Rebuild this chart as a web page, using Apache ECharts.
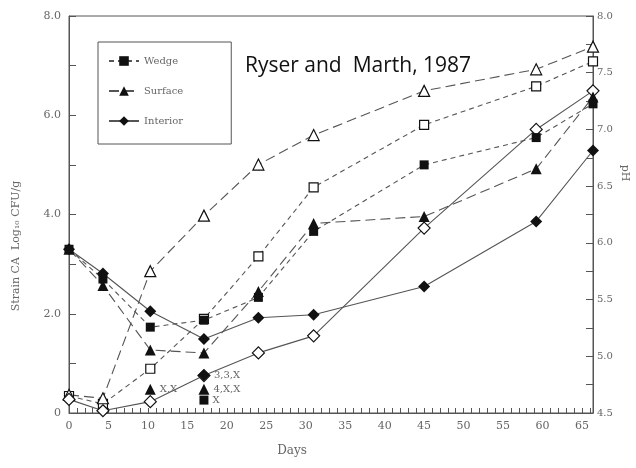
<!DOCTYPE html>
<html>
<head>
<meta charset="utf-8">
<script src="https://cdn.jsdelivr.net/npm/echarts@6/dist/echarts.min.js"></script>
<style>
html,body{margin:0;padding:0;background:#fff;}
#main{width:636px;height:468px;}
</style>
</head>
<body>
<div id="main"></div>
<script>
// sampling days
var days = [0, 4.3, 10.3, 17.1, 24, 31, 45, 59.2, 66.4];

// log10 CFU/g (left axis), filled markers
var wedgeLog = [3.3, 2.7, 1.73, 1.87, 2.33, 3.66, 5.0, 5.55, 6.23];
var surfaceLog = [3.3, 2.57, 1.27, 1.21, 2.45, 3.82, 3.96, 4.92, 6.37];
var interiorLog = [3.3, 2.81, 2.05, 1.49, 1.92, 1.98, 2.55, 3.86, 5.29];

// pH (right axis), open markers
var wedgePH = [4.65, 4.58, 4.89, 5.33, 5.88, 6.49, 7.04, 7.38, 7.6];
var surfacePH = [4.66, 4.63, 5.75, 6.24, 6.69, 6.95, 7.34, 7.53, 7.73];
var interiorPH = [4.62, 4.52, 4.6, 4.83, 5.03, 5.18, 6.13, 7.0, 7.34];

// single low replicate points with their notes
var lowTriDays = [10.3, 17.1];
var lowTriLog = [0.48, 0.48];
var lowTriNotes = ['X,X', '4,X,X'];
var lowDiaDays = [17.1];
var lowDiaLog = [0.76];
var lowDiaNotes = ['3,3,X'];
var lowSqDays = [17.1];
var lowSqLog = [0.26];
var lowSqNotes = ['X'];

var leftTicks = ['0', '2.0', '4.0', '6.0', '8.0'];

function pairs(xs, ys){
	var out = [];
	for (var i = 0; i < xs.length; i++) out.push([xs[i], ys[i]]);
	return out;
}

var ink = '#111';
var lineInk = '#555';
var txt = '#666';
var serif = 'DejaVu Serif';

function lineSeries(name, ys, axis, symbol, size, dash, open){
	return {
		name: name,
		type: 'line',
		yAxisIndex: axis,
		data: pairs(days, ys),
		symbol: symbol,
		symbolSize: size,
		showAllSymbol: true,
		lineStyle: {color: lineInk, width: 1.1, type: dash},
		itemStyle: {color: open ? '#fff' : ink, borderColor: ink, borderWidth: open ? 1.2 : 0, opacity: 1},
		z: open ? 2 : 3,
		animation: false
	};
}

function lowSeries(xs, ys, notes, symbol, size){
	return {
		name: 'low-' + symbol,
		type: 'scatter',
		yAxisIndex: 0,
		data: pairs(xs, ys),
		symbol: symbol,
		symbolSize: size,
		itemStyle: {color: ink, opacity: 1},
		label: {
			show: true, position: 'right', distance: 4,
			color: txt, fontFamily: serif, fontSize: 10,
			formatter: function(p){ return notes[p.dataIndex]; }
		},
		z: 4,
		animation: false
	};
}

var chart = echarts.init(document.getElementById('main'));

var option = {
	backgroundColor: '#fff',
	animation: false,
	grid: {left: 69, right: 43, top: 16, bottom: 55, show: true, borderColor: lineInk, borderWidth: 1},
	legend: {
		data: ['Wedge', 'Surface', 'Interior'],
		orient: 'vertical',
		left: 98, top: 42,
		padding: [14, 48, 18, 10],
		itemWidth: 30, itemHeight: 12, itemGap: 20,
		backgroundColor: '#fff',
		borderColor: lineInk, borderWidth: 1,
		textStyle: {color: txt, fontFamily: serif, fontSize: 10}
	},
	xAxis: {
		type: 'value', min: 0, max: 66.4, interval: 1,
		axisLine: {lineStyle: {color: lineInk}},
		axisTick: {inside: true, length: 5, lineStyle: {color: lineInk}},
		axisLabel: {
			color: txt, fontFamily: serif, fontSize: 11, margin: 8,
			showMaxLabel: false,
			formatter: function(v){ return (Math.round(v) % 5 === 0 && Math.abs(v - Math.round(v)) < 1e-6) ? String(Math.round(v)) : ''; }
		},
		splitLine: {show: false}
	},
	yAxis: [{
		type: 'value', min: 0, max: 8, interval: 1, position: 'left',
		axisLine: {show: true, lineStyle: {color: lineInk}},
		axisTick: {show: true, inside: true, length: 7, lineStyle: {color: lineInk}},
		axisLabel: {
			color: txt, fontFamily: serif, fontSize: 11, margin: 8,
			formatter: function(v){ return v % 2 === 0 ? leftTicks[v / 2] : ''; }
		},
		splitLine: {show: false}
	}, {
		type: 'value', min: 4.5, max: 8, interval: 0.25, position: 'right',
		axisLine: {show: true, lineStyle: {color: lineInk}},
		axisTick: {show: true, inside: true, length: 7, lineStyle: {color: lineInk}},
		axisLabel: {
			color: txt, fontFamily: serif, fontSize: 10, margin: 4,
			formatter: function(v){ return Math.abs(v * 2 - Math.round(v * 2)) < 1e-6 ? v.toFixed(1) : ''; }
		},
		splitLine: {show: false}
	}],
	graphic: [
		{type: 'text', x: 245, y: 66, style: {text: 'Ryser and  Marth, 1987', fill: '#111', font: '21px "Open Sans"', verticalAlign: 'middle'}},
		{type: 'text', x: 292, y: 451, style: {text: 'Days', fill: txt, font: '12px "DejaVu Serif"', align: 'center', verticalAlign: 'middle'}},
		{type: 'text', x: 16, y: 246, rotation: Math.PI / 2, style: {text: 'Strain CA  Log\u2081\u2080 CFU/g', fill: txt, font: '11px "DejaVu Serif"', align: 'center', verticalAlign: 'middle'}},
		{type: 'text', x: 625, y: 173, rotation: -Math.PI / 2, style: {text: 'pH', fill: txt, font: '11px "DejaVu Serif"', align: 'center', verticalAlign: 'middle'}}
	],
	series: [
		lineSeries('Wedge pH', wedgePH, 1, 'rect', 9, [5, 4], true),
		lineSeries('Surface pH', surfacePH, 1, 'triangle', 11, [10, 5], true),
		lineSeries('Interior pH', interiorPH, 1, 'diamond', 12, 'solid', true),
		lineSeries('Wedge', wedgeLog, 0, 'rect', 9, [5, 4], false),
		lineSeries('Surface', surfaceLog, 0, 'triangle', 11, [10, 5], false),
		lineSeries('Interior', interiorLog, 0, 'diamond', 12, 'solid', false),
		lowSeries(lowTriDays, lowTriLog, lowTriNotes, 'triangle', 11),
		lowSeries(lowDiaDays, lowDiaLog, lowDiaNotes, 'diamond', 12),
		lowSeries(lowSqDays, lowSqLog, lowSqNotes, 'rect', 9)
	]
};

chart.setOption(option);
</script>
</body>
</html>
